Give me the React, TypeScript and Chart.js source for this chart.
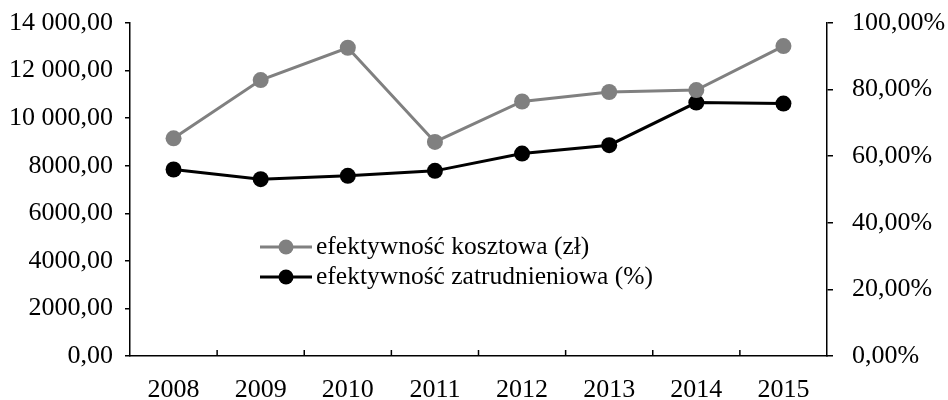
import React, { useEffect, useRef } from "react";
import { Chart, registerables } from "chart.js";

Chart.register(...registerables);

const years = ["2008", "2009", "2010", "2011", "2012", "2013", "2014", "2015"];
const kosztowa = [9150, 11600, 12960, 9000, 10700, 11100, 11180, 13030];
const zatrudnieniowa = [56.0, 53.1, 54.1, 55.6, 60.8, 63.3, 76.1, 75.8];
const seriesNames = ["efektywność kosztowa (zł)", "efektywność zatrudnieniowa (%)"];

const FONT = "'Liberation Serif', 'Times New Roman', serif";

function fmtLeft(v: number): string {
  const s = v.toFixed(2).replace(".", ",");
  const [int, dec] = s.split(",");
  const intStr = v >= 10000 ? int.replace(/\B(?=(\d{3})+(?!\d))/g, " ") : int;
  return intStr + "," + dec;
}
function fmtRight(v: number): string {
  return v.toFixed(2).replace(".", ",") + "%";
}

const innerTicks = {
  id: "innerTicks",
  afterDraw(chart: any) {
    const x = chart.scales.x;
    const ctx = chart.ctx;
    const n = years.length;
    const bottom = chart.chartArea.bottom;
    ctx.save();
    ctx.strokeStyle = "#000";
    ctx.lineWidth = 1.5;
    for (let i = 1; i < n; i++) {
      const px = (x.getPixelForValue(i - 1) + x.getPixelForValue(i)) / 2;
      ctx.beginPath();
      ctx.moveTo(px, bottom);
      ctx.lineTo(px, bottom - 6);
      ctx.stroke();
    }
    ctx.restore();
  },
};

const insideLegend = {
  id: "insideLegend",
  afterDraw(chart: any) {
    const ctx = chart.ctx;
    const rows = chart.data.datasets;
    ctx.save();
    ctx.font = `25.5px ${FONT}`;
    ctx.textBaseline = "middle";
    ctx.textAlign = "left";
    rows.forEach((ds: any, i: number) => {
      const y = 247 + i * 30;
      ctx.strokeStyle = ds.borderColor;
      ctx.lineWidth = 3;
      ctx.beginPath();
      ctx.moveTo(260, y);
      ctx.lineTo(312, y);
      ctx.stroke();
      ctx.fillStyle = ds.pointBackgroundColor;
      ctx.beginPath();
      ctx.arc(286, y, 7.5, 0, Math.PI * 2);
      ctx.fill();
      ctx.fillStyle = "#000";
      ctx.fillText(ds.label, 316, y);
    });
    ctx.restore();
  },
};

export default function App() {
  const ref = useRef<HTMLCanvasElement | null>(null);
  useEffect(() => {
    document.body.style.margin = "0";
    if (!ref.current) return;
    const chart = new Chart(ref.current, {
      type: "line",
      data: {
        labels: years,
        datasets: [
          {
            label: seriesNames[0],
            data: kosztowa,
            yAxisID: "y",
            borderColor: "#808080",
            backgroundColor: "#808080",
            pointBackgroundColor: "#808080",
            pointBorderColor: "#808080",
            borderWidth: 3,
            pointRadius: 8,
            pointBorderWidth: 0,
            tension: 0,
          },
          {
            label: seriesNames[1],
            data: zatrudnieniowa,
            yAxisID: "y1",
            borderColor: "#000000",
            backgroundColor: "#000000",
            pointBackgroundColor: "#000000",
            pointBorderColor: "#000000",
            borderWidth: 3,
            pointRadius: 8,
            pointBorderWidth: 0,
            tension: 0,
          },
        ],
      },
      options: {
        animation: false,
        responsive: true,
        maintainAspectRatio: false,
        layout: { padding: { top: 23, left: 0, right: 0, bottom: 0 } },
        plugins: {
          legend: { display: false },
          tooltip: { enabled: false },
        },
        scales: {
          x: {
            offset: true,
            grid: { display: false },
            border: { display: true, color: "#000", width: 1.5 },
            ticks: {
              color: "#000",
              font: { family: FONT, size: 26 },
              padding: 11,
              maxRotation: 0,
            },
            afterFit(scale: any) {
              scale.height = 44;
              scale.paddingLeft = 0;
              scale.paddingRight = 0;
            },
          },
          y: {
            position: "left",
            min: 0,
            max: 14000,
            grid: {
              drawOnChartArea: false,
              drawTicks: true,
              tickLength: 5,
              color: "#000",
              lineWidth: 1.5,
            },
            border: { display: true, color: "#000", width: 1.5 },
            ticks: {
              stepSize: 2000,
              color: "#000",
              font: { family: FONT, size: 26 },
              padding: 12,
              callback: (v: any) => fmtLeft(Number(v)),
            },
            afterFit(scale: any) {
              scale.width = 130;
              scale.paddingTop = 0;
              scale.paddingBottom = 0;
            },
          },
          y1: {
            position: "right",
            min: 0,
            max: 100,
            grid: {
              drawOnChartArea: false,
              drawTicks: true,
              tickLength: 6,
              color: "#000",
              lineWidth: 1.5,
            },
            border: { display: true, color: "#000", width: 1.5 },
            ticks: {
              stepSize: 20,
              color: "#000",
              font: { family: FONT, size: 26 },
              padding: 19,
              callback: (v: any) => fmtRight(Number(v)),
            },
            afterFit(scale: any) {
              scale.width = 121;
              scale.paddingTop = 0;
              scale.paddingBottom = 0;
            },
          },
        },
      },
      plugins: [innerTicks, insideLegend],
    });
    return () => chart.destroy();
  }, []);
  return (
    <div style={{ width: 948, height: 400, position: "relative" }}>
      <canvas ref={ref} />
    </div>
  );
}
